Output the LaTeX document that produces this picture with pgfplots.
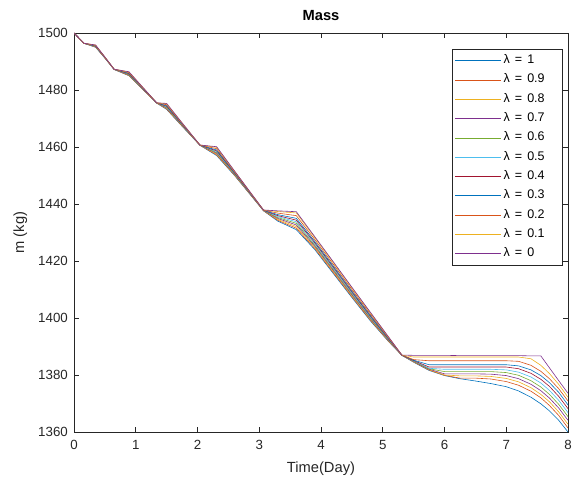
\documentclass[border=0pt]{standalone}
\usepackage{pgfplots}
\pgfplotsset{compat=1.18}
\usepackage{pgfplotstable}
\usepackage{fontspec}
\setmainfont{Liberation Sans}
\definecolor{axgray}{RGB}{38,38,38}
\definecolor{mblue}{RGB}{0,114,189}
\definecolor{morange}{RGB}{217,83,25}
\definecolor{myellow}{RGB}{237,177,32}
\definecolor{mpurple}{RGB}{126,47,142}
\definecolor{mgreen}{RGB}{119,172,48}
\definecolor{mlblue}{RGB}{77,190,238}
\definecolor{mred}{RGB}{162,20,47}
\newcommand{\lam}[1]{\makebox[55pt][l]{λ\hspace{5pt}=\hspace{5pt}#1}}
\pgfplotstableread{
t l10 l09 l08 l07 l06 l05 l04 l03 l02 l01 l00
0 1500 1500 1500 1500 1500 1500 1500 1500 1500 1500 1500
0.16 1496.4 1496.4 1496.4 1496.4 1496.4 1496.4 1496.4 1496.4 1496.4 1496.4 1496.4
0.35 1495.0 1495.06 1495.14 1495.21 1495.28 1495.35 1495.42 1495.50 1495.62 1495.74 1495.8
0.5 1491.2 1491.23 1491.27 1491.30 1491.34 1491.38 1491.41 1491.45 1491.51 1491.57 1491.6
0.65 1487.2 1487.21 1487.22 1487.23 1487.24 1487.24 1487.25 1487.26 1487.28 1487.29 1487.3
0.89 1485.0 1485.11 1485.24 1485.36 1485.49 1485.62 1485.74 1485.88 1486.09 1486.30 1486.4
1.1 1480.5 1480.56 1480.64 1480.71 1480.78 1480.85 1480.92 1481.0 1481.12 1481.24 1481.3
1.34 1475.4 1475.41 1475.42 1475.43 1475.44 1475.44 1475.45 1475.46 1475.48 1475.49 1475.5
1.5 1473.2 1473.37 1473.56 1473.75 1473.93 1474.12 1474.31 1474.52 1474.84 1475.15 1475.3
1.75 1467.3 1467.4 1467.5 1467.61 1467.72 1467.83 1467.94 1468.06 1468.24 1468.42 1468.5
2.04 1460.6 1460.61 1460.62 1460.63 1460.64 1460.64 1460.65 1460.66 1460.68 1460.69 1460.7
2.31 1457.0 1457.25 1457.53 1457.81 1458.08 1458.36 1458.64 1458.95 1459.42 1459.88 1460.1
2.6 1450.0 1450.13 1450.27 1450.42 1450.56 1450.7 1450.85 1451.01 1451.25 1451.49 1451.6
2.85 1443.4 1443.47 1443.55 1443.63 1443.71 1443.8 1443.88 1443.97 1444.1 1444.24 1444.3
3.07 1437.6 1437.62 1437.65 1437.68 1437.7 1437.73 1437.76 1437.79 1437.83 1437.88 1437.9
3.3 1434.0 1434.29 1434.61 1434.94 1435.26 1435.58 1435.91 1436.27 1436.81 1437.35 1437.6
3.6 1431.0 1431.5 1432.07 1432.64 1433.2 1433.77 1434.34 1434.97 1435.91 1436.86 1437.3
3.9 1424.0 1424.36 1424.76 1425.17 1425.57 1425.98 1426.38 1426.83 1427.51 1428.18 1428.5
4.2 1415.6 1415.93 1416.3 1416.67 1417.03 1417.4 1417.77 1418.18 1418.8 1419.41 1419.7
4.5 1407.2 1407.49 1407.81 1408.14 1408.46 1408.78 1409.11 1409.47 1410.01 1410.55 1410.8
4.8 1399.0 1399.24 1399.51 1399.78 1400.05 1400.32 1400.59 1400.89 1401.34 1401.79 1402.0
5.1 1391.6 1391.73 1391.87 1392.02 1392.16 1392.3 1392.45 1392.61 1392.85 1393.09 1393.2
5.31 1386.9 1386.91 1386.92 1386.93 1386.94 1386.94 1386.95 1386.96 1386.98 1386.99 1387.0
5.5 1384.5 1384.6 1384.7 1384.8 1384.9 1385.0 1385.1 1385.2 1385.4 1386.3 1386.9
5.75 1381.6 1381.75 1381.9 1382.05 1382.2 1382.35 1382.8 1383.6 1385.0 1386.3 1386.9
6.0 1379.8 1379.9 1380.0 1380.4 1381.2 1382.0 1382.8 1383.6 1385.0 1386.3 1386.9
6.25 1378.7 1378.9 1379.7 1380.4 1381.2 1382.0 1382.8 1383.6 1385.0 1386.3 1386.8
6.5 1377.9 1378.9 1379.7 1380.4 1381.2 1382.0 1382.8 1383.6 1385.0 1386.3 1386.8
6.75 1377.0 1378.6 1379.5 1380.3 1381.2 1382.0 1382.8 1383.6 1385.0 1386.3 1386.8
7.0 1375.9 1377.7 1378.8 1379.8 1380.85 1381.8 1382.8 1383.6 1385.0 1386.3 1386.8
7.2 1374.4 1376.4 1377.6 1378.7 1379.9 1381.0 1382.2 1383.2 1384.8 1386.3 1386.8
7.4 1372.2 1374.3 1375.55 1376.75 1378.0 1379.3 1380.6 1381.8 1383.4 1385.7 1386.7
7.56 1369.9 1372.0 1373.2 1374.5 1375.8 1377.2 1378.5 1379.8 1381.3 1383.4 1386.7
7.7 1367.4 1369.3 1370.6 1371.9 1373.2 1374.6 1376.0 1377.3 1378.7 1380.5 1382.5
7.85 1364.1 1365.8 1367.05 1368.4 1369.7 1371.1 1372.5 1373.9 1375.2 1376.7 1378.0
8.0 1360.0 1361.4 1362.7 1364.1 1365.4 1366.8 1368.2 1369.5 1370.9 1372.2 1373.6
}\massdata
\begin{document}
\begin{tikzpicture}
\path[use as bounding box] (0,0) rectangle (573pt,482pt);
\begin{axis}[
  at={(74pt,50pt)}, anchor=south west, scale only axis,
  width=494pt, height=399pt,
  xmin=0, xmax=8, ymin=1360, ymax=1500,
  xtick={0,1,...,8}, ytick={1360,1380,...,1500},
  tick align=inside, tick pos=both, major tick length=5pt,
  axis line style={axgray, line width=0.6pt},
  every tick/.style={axgray, line width=0.6pt},
  /pgf/number format/assume math mode=true,
  /pgf/number format/1000 sep={},
  ticklabel style={font=\fontsize{13.3}{16}\selectfont, text=axgray},
  xticklabel style={anchor=base, yshift=-17pt},
  yticklabel style={anchor=east, inner sep=0pt, xshift=-6pt},
  xlabel={Time(Day)}, ylabel={m (kg)}, title={Mass},
  label style={font=\fontsize{14.7}{17}\selectfont, text=axgray},
  xlabel style={at={(axis description cs:0.5,-0.1027)}, anchor=base},
  ylabel style={at={(axis description cs:-0.1012,0.5)}, anchor=base},
  title style={at={(axis description cs:0.5,1.0168)}, anchor=base, font=\bfseries\fontsize{14.7}{17}\selectfont},
  legend style={at={(1,1)}, anchor=north east, xshift=-6pt, yshift=-16pt,
    draw=axgray, line width=0.5pt, font=\fontsize{12.5}{14}\selectfont,
    inner xsep=3pt, inner ysep=5.4pt, row sep=7.3pt, column sep=2pt,
    nodes={inner sep=0pt, text height=9pt, text depth=3pt}, cells={anchor=west}},
  legend image code/.code={\draw[#1] (0pt,0pt) -- (46pt,0pt);},
]
\addplot[mblue, line width=0.6pt] table[x=t, y=l10] {\massdata};
\addlegendentry{\lam{1}}
\addplot[morange, line width=0.6pt] table[x=t, y=l09] {\massdata};
\addlegendentry{\lam{0.9}}
\addplot[myellow, line width=0.6pt] table[x=t, y=l08] {\massdata};
\addlegendentry{\lam{0.8}}
\addplot[mpurple, line width=0.6pt] table[x=t, y=l07] {\massdata};
\addlegendentry{\lam{0.7}}
\addplot[mgreen, line width=0.6pt] table[x=t, y=l06] {\massdata};
\addlegendentry{\lam{0.6}}
\addplot[mlblue, line width=0.6pt] table[x=t, y=l05] {\massdata};
\addlegendentry{\lam{0.5}}
\addplot[mred, line width=0.6pt] table[x=t, y=l04] {\massdata};
\addlegendentry{\lam{0.4}}
\addplot[mblue, line width=0.6pt] table[x=t, y=l03] {\massdata};
\addlegendentry{\lam{0.3}}
\addplot[morange, line width=0.6pt] table[x=t, y=l02] {\massdata};
\addlegendentry{\lam{0.2}}
\addplot[myellow, line width=0.6pt] table[x=t, y=l01] {\massdata};
\addlegendentry{\lam{0.1}}
\addplot[mpurple, line width=0.6pt] table[x=t, y=l00] {\massdata};
\addlegendentry{\lam{0}}
\end{axis}
\end{tikzpicture}
\end{document}
